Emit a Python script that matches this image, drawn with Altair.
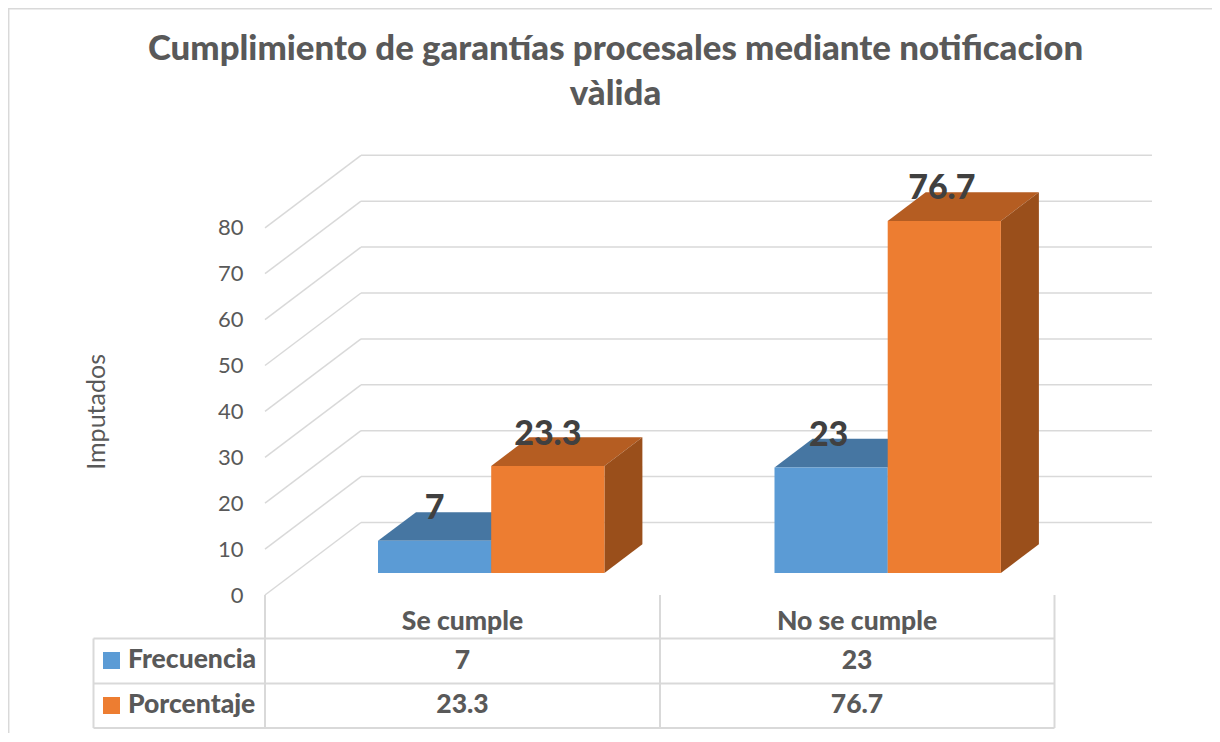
import altair as alt
import pandas as pd

categories = ["Se cumple", "No se cumple"]
series = ["Frecuencia", "Porcentaje"]
frecuencia = [7, 23]
porcentaje = [23.3, 76.7]
frecuencia_labels = ["7", "23"]
porcentaje_labels = ["23.3", "76.7"]
y_ticks = [0, 10, 20, 30, 40, 50, 60, 70, 80]
title_lines = ["Cumplimiento de garantías procesales mediante notificacion", "vàlida"]
axis_title = "Imputados"

front_colors = ["#5b9bd5", "#ed7d31"]
top_colors = ["#4676a2", "#b55d22"]
side_colors = ["#3e6e99", "#9a4f1b"]
GRID = "#d9d9d9"
TXT = "#595959"
FONT = "Lato"
HEAVY = 900

# plot-space geometry
PLOT_W, PLOT_H = 887, 367.2
UNIT = PLOT_H / 80
CAT = 395.5
xu = lambda px: (px - 265) / CAT
yu = lambda py: (595 - py) / UNIT
WALL_DX, WALL_DV = 96 / CAT, 72.5 / UNIT
BAR_DX, BAR_DV = 38 / CAT, 28.7 / UNIT
FRONT_DX, FRONT_DV = 29 / CAT, 22 / UNIT
GAP, BAR_W, STEP = 84 / CAT, 113.2 / CAT, 396.5 / CAT

xs = alt.Scale(domain=[0, PLOT_W / CAT], range=[0, PLOT_W], nice=False, zero=False)
ys = alt.Scale(domain=[0, 80], range=[PLOT_H, 0], nice=False, zero=False)
y_axis = alt.Axis(values=y_ticks, domain=False, ticks=False, grid=False,
                  labelFont=FONT, labelFontSize=22, labelColor=TXT, labelPadding=22,
                  titleFont=FONT, titleFontSize=25, titleColor=TXT,
                  titleFontWeight="normal", titlePadding=108)
X = alt.X("x:Q", scale=xs, axis=None)
X2 = alt.X2("x2:Q")
Y = alt.Y("y:Q", scale=ys, title=axis_title, axis=y_axis)
Y2 = alt.Y2("y2:Q")

# gridlines on the walls
grid_rows = []
for v in y_ticks:
    grid_rows += [
        {"k": f"l{v}", "x": 0, "y": v},
        {"k": f"l{v}", "x": WALL_DX, "y": v + WALL_DV},
        {"k": f"b{v}", "x": WALL_DX, "y": v + WALL_DV},
        {"k": f"b{v}", "x": WALL_DX + 791 / CAT, "y": v + WALL_DV},
    ]
grid = alt.Chart(pd.DataFrame(grid_rows)).mark_line(color=GRID, strokeWidth=1.5).encode(
    x=X, y=Y, detail="k:N",
)

# bars
fronts, faces, labels = [], [], []
for c in range(2):
    for s, vals, labs in ((0, frecuencia, frecuencia_labels), (1, porcentaje, porcentaje_labels)):
        v = vals[c]
        x0 = c * STEP + GAP + s * BAR_W + FRONT_DX
        x1 = x0 + BAR_W
        base = FRONT_DV
        top = v + base
        k = f"{c}{s}"
        fronts.append({"x": x0, "x2": x1, "y": base, "y2": top, "c": front_colors[s]})
        for x, y, y2 in ((x0, top, top), (x0 + BAR_DX, top, top + BAR_DV),
                         (x1, top, top + BAR_DV), (x1 + BAR_DX, top + BAR_DV, top + BAR_DV)):
            faces.append({"k": "t" + k, "x": x, "y": y, "y2": y2, "c": top_colors[s]})
        for x, y, y2 in ((x1, base, top), (x1 + BAR_DX, base + BAR_DV, top + BAR_DV)):
            faces.append({"k": "s" + k, "x": x, "y": y, "y2": y2, "c": side_colors[s]})
        labels.append({"x": (x0 + x1) / 2 - c * 2.5 / CAT, "y": top + 31.5 / UNIT, "t": labs[c]})

faces_layer = alt.Chart(pd.DataFrame(faces)).mark_area(orient="vertical", opacity=1).encode(
    x=X, y=Y, y2=Y2, detail="k:N", color=alt.Color("c:N", scale=None),
)
fronts_layer = alt.Chart(pd.DataFrame(fronts)).mark_rect().encode(
    x=X, x2=X2, y=Y, y2=Y2, color=alt.Color("c:N", scale=None),
)
labels_layer = alt.Chart(pd.DataFrame(labels)).mark_text(
    font=FONT, fontSize=34, fontWeight=HEAVY, color="#404040", align="center", baseline="middle"
).encode(x=X, y=Y, text="t:N")

# data table
hlines = [638.5, 683.5, 728]
vlines = [(93.5, 638.5), (265, 595), (660, 595), (1054.5, 595)]
table_rows = []
for py in hlines:
    table_rows.append({"x": xu(93.5), "x2": xu(1054.5), "y": yu(py), "y2": yu(py)})
for px, start in vlines:
    table_rows.append({"x": xu(px), "x2": xu(px), "y": yu(start), "y2": yu(728)})
table_lines = alt.Chart(pd.DataFrame(table_rows)).mark_rule(color=GRID, strokeWidth=2).encode(
    x=X, x2=X2, y=Y, y2=Y2
)

cell_rows = []
col_x = [xu(462.5), xu(857)]
for i, cat in enumerate(categories):
    cell_rows.append({"x": col_x[i], "y": yu(622), "t": cat})
    cell_rows.append({"x": col_x[i], "y": yu(661), "t": frecuencia_labels[i]})
    cell_rows.append({"x": col_x[i], "y": yu(705), "t": porcentaje_labels[i]})
cells = alt.Chart(pd.DataFrame(cell_rows)).mark_text(
    font=FONT, fontSize=26.5, fontWeight=HEAVY, color=TXT, align="center", baseline="middle"
).encode(x=X, y=Y, text="t:N")

head_rows = [{"x": xu(128), "y": yu(660), "t": series[0]}, {"x": xu(128), "y": yu(705), "t": series[1]}]
heads = alt.Chart(pd.DataFrame(head_rows)).mark_text(
    font=FONT, fontSize=26.5, fontWeight=HEAVY, color=TXT, align="left", baseline="middle"
).encode(x=X, y=Y, text="t:N")

key_rows = [
    {"x": xu(103), "x2": xu(120), "y": yu(652), "y2": yu(669), "c": front_colors[0]},
    {"x": xu(103), "x2": xu(120), "y": yu(697), "y2": yu(714), "c": front_colors[1]},
]
keys = alt.Chart(pd.DataFrame(key_rows)).mark_rect().encode(
    x=X, x2=X2, y=Y, y2=Y2, color=alt.Color("c:N", scale=None)
)

# outer chart frame (left and top edges)
frame_rows = [
    {"x": xu(8.7), "x2": xu(8.7), "y": yu(8), "y2": yu(734)},
    {"x": xu(8), "x2": xu(1212), "y": yu(8.7), "y2": yu(8.7)},
]
frame = alt.Chart(pd.DataFrame(frame_rows)).mark_rule(color=GRID, strokeWidth=1.5).encode(
    x=X, x2=X2, y=Y, y2=Y2
)

chart = alt.layer(
    grid, frame, table_lines, faces_layer, fronts_layer, labels_layer, cells, heads, keys
).properties(
    width=PLOT_W,
    height=PLOT_H,
    background="white",
    title=alt.TitleParams(
        text=title_lines, anchor="middle", frame="group", dx=-93, offset=-106,
        font=FONT, fontSize=34.8, fontWeight=HEAVY, color=TXT, lineHeight=45,
    ),
    padding={"left": 257, "top": 219.8, "right": 60, "bottom": 138},
    autosize=alt.AutoSizeParams(type="none"),
).configure_view(strokeOpacity=0)

chart.save("out.html", embed_options={"renderer": "svg", "actions": False})
